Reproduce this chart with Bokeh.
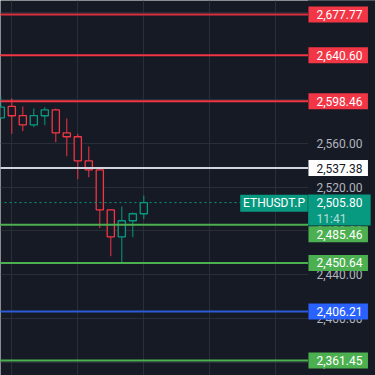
from bokeh.plotting import figure
from bokeh.models import Range1d, FixedTicker
from bokeh.core.properties import value
from bokeh.embed import file_html
from bokeh.resources import INLINE

# ---------------- data ----------------
symbol = "ETHUSDT.P"
countdown = "11:41"
candle_index = list(range(14))
opens  = [2583.3, 2593.7, 2585.4, 2576.9, 2585.2, 2590.6, 2569.6, 2566.0, 2544.0, 2535.8, 2499.2, 2474.5, 2489.2, 2495.6]
highs  = [2602.8, 2601.0, 2593.7, 2591.8, 2593.0, 2591.8, 2582.7, 2568.7, 2557.1, 2537.6, 2499.2, 2502.2, 2496.8, 2512.3]
lows   = [2582.5, 2568.7, 2571.1, 2574.7, 2576.6, 2561.0, 2548.2, 2527.2, 2529.0, 2482.4, 2456.8, 2451.3, 2474.2, 2490.6]
closes = [2593.0, 2585.2, 2576.9, 2585.4, 2590.6, 2569.6, 2566.0, 2544.0, 2535.8, 2499.2, 2474.5, 2489.2, 2495.6, 2505.8]
last_price = 2505.80

level_prices = [2677.77, 2640.60, 2598.46, 2537.38, 2485.46, 2450.64, 2406.21, 2361.45]
level_line_colors = ["#d9313f", "#f23645", "#f23645", "#d1d4dc", "#4caf50", "#4caf50", "#2b5bd7", "#4caf50"]
level_badge_colors = ["#f23645", "#f23645", "#f23645", "#ffffff", "#4caf50", "#4caf50", "#2962ff", "#4caf50"]
level_text_colors = ["#ffffff", "#ffffff", "#ffffff", "#131722", "#ffffff", "#ffffff", "#ffffff", "#ffffff"]

tick_values = [2360, 2400, 2440, 2480, 2520, 2560, 2600, 2640, 2680]
vgrid_values = [1, 7, 13, 19, 25]

# ---------------- style ----------------
BG = "#161a25"
GRID = "#2a2e39"
UP = "#089981"
DOWN = "#f23645"
TICK_COLOR = "#b2b5be"
FONT = value("Roboto")

W = H = 375
BAR_PX = 11.0
X0 = -0.027
X1 = X0 + W / BAR_PX
Y_TOP, Y_BOT = 2690.57, 2347.73
PXU = H / (Y_TOP - Y_BOT)  # pixels per price unit


def px2x(px):
    return X0 + px / BAR_PX


def price2py(pr):
    return (Y_TOP - pr) * PXU


def py2price(py):
    return Y_TOP - py / PXU


PANEL_PX = 307.5
TEXT_PX = 316

p = figure(width=W, height=H, x_range=Range1d(X0, X1), y_range=Range1d(Y_BOT, Y_TOP),
           output_backend="svg", toolbar_location=None, min_border=0,
           x_axis_location=None, y_axis_location=None,
           background_fill_color=BG, border_fill_color=BG, outline_line_color=None)
p.xgrid.ticker = FixedTicker(ticks=vgrid_values)
p.ygrid.ticker = FixedTicker(ticks=tick_values)
p.grid.grid_line_color = GRID
p.grid.grid_line_width = 1

# candles (hollow)
body_top = [max(o, c) for o, c in zip(opens, closes)]
body_bot = [min(o, c) for o, c in zip(opens, closes)]
colors = [UP if c >= o else DOWN for o, c in zip(opens, closes)]
p.segment(x0=candle_index, x1=candle_index, y0=highs, y1=lows, line_color=colors, line_width=1)
hw = 3.6 / BAR_PX
p.quad(left=[i - hw for i in candle_index], right=[i + hw for i in candle_index],
       top=body_top, bottom=body_bot, fill_color=BG, line_color=colors, line_width=1.3)

# price-scale panel cover
p.quad(left=[px2x(PANEL_PX)], right=[X1 + 1], bottom=[Y_BOT - 50], top=[Y_TOP + 50],
       fill_color=BG, line_color=None)

# level lines
p.segment(x0=[X0 - 1] * len(level_prices), x1=[px2x(PANEL_PX)] * len(level_prices),
          y0=level_prices, y1=level_prices, line_color=level_line_colors, line_width=2)

# current price dotted line
p.segment(x0=[X0 - 1], x1=[px2x(240)], y0=[last_price], y1=[last_price],
          line_color=UP, line_width=1, line_dash="2 3")

# tick labels
p.text(x=[px2x(TEXT_PX)] * len(tick_values), y=tick_values,
       text=[f"{v:,.2f}" for v in tick_values], text_color=TICK_COLOR,
       text_font=FONT, text_font_size="12px", text_baseline="middle", text_align="left")

# current price badge geometry
cur_py = price2py(last_price)
cur_top = cur_py - 8
cur_bot = cur_top + 31
BADGE_H = 16

badge_y = []
for lv in level_prices:
    py = price2py(lv)
    if (py + BADGE_H / 2) > cur_top and (py - BADGE_H / 2) < cur_bot:
        py = cur_bot + 0.7 + BADGE_H / 2
    badge_y.append(py2price(py))

p.rect(x=[px2x(337.7)] * len(level_prices), y=badge_y, width=59.5, height=BADGE_H,
       width_units="screen", height_units="screen",
       fill_color=level_badge_colors, line_color=None)
p.text(x=[px2x(TEXT_PX)] * len(level_prices), y=badge_y,
       text=[f"{v:,.2f}" for v in level_prices], text_color=level_text_colors,
       text_font=FONT, text_font_size="12px", text_baseline="middle", text_align="left")

# current price badge
p.rect(x=[px2x(338.9)], y=[py2price((cur_top + cur_bot) / 2)], width=62.5, height=31,
       width_units="screen", height_units="screen", fill_color=UP, line_color=None)
p.text(x=[px2x(TEXT_PX)], y=[last_price], text=[f"{last_price:,.2f}"], text_color="#ffffff",
       text_font=FONT, text_font_size="12px", text_baseline="middle", text_align="left")
p.text(x=[px2x(TEXT_PX)], y=[py2price(cur_py + 16)], text=[countdown], text_color="#ffffff",
       text_alpha=0.7, text_font=FONT, text_font_size="12px", text_baseline="middle",
       text_align="left")

# symbol badge
p.rect(x=[px2x(273.5)], y=[py2price(202.8)], width=67.6, height=17,
       width_units="screen", height_units="screen", fill_color=UP, line_color=None)
p.text(x=[px2x(273.5)], y=[py2price(202.8)], text=[symbol], text_color="#ffffff",
       text_font=FONT, text_font_size="12px", text_baseline="middle", text_align="center")

open("out.html", "w").write(file_html(p, INLINE))
